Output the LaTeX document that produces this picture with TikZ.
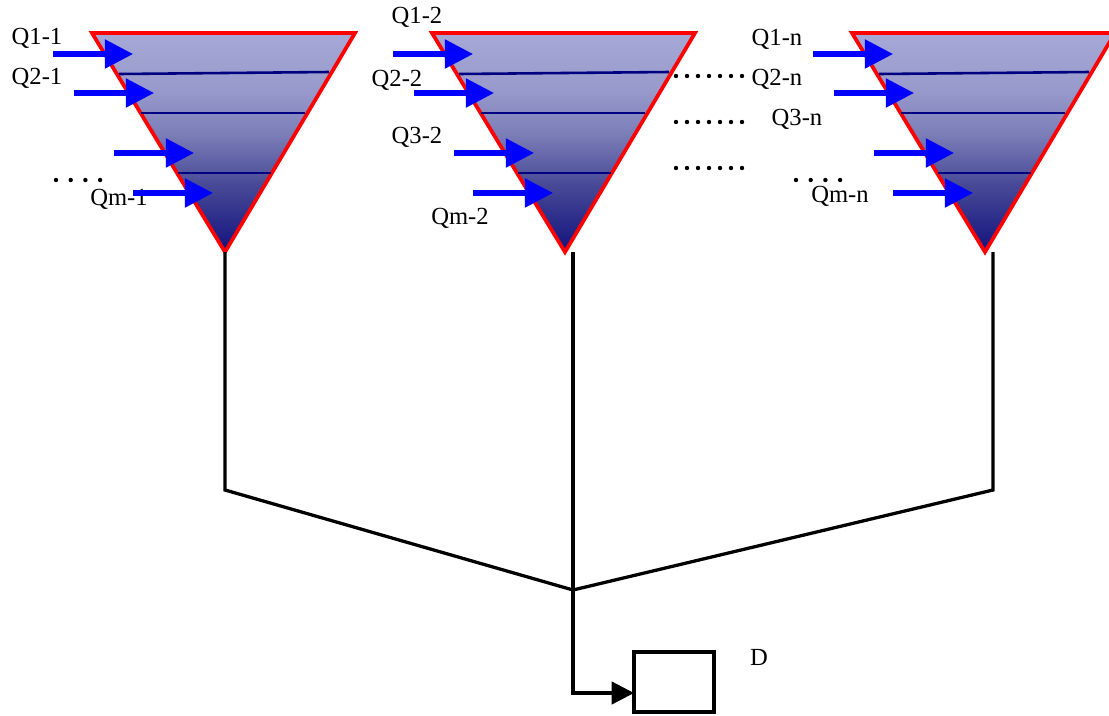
\documentclass[tikz,border=0pt]{standalone}
\usepackage{fontspec}
\setmainfont{Liberation Serif}
\usetikzlibrary{arrows.meta}
\definecolor{tanktop}{RGB}{166,168,214}
\definecolor{tankupper}{RGB}{152,154,204}
\definecolor{tankmid}{RGB}{124,126,184}
\definecolor{tanklow}{RGB}{70,72,150}
\definecolor{tankbot}{RGB}{18,18,125}
\definecolor{layerline}{RGB}{0,0,128}
\pgfdeclareverticalshading{tankshade}{100bp}{color(0bp)=(tankbot); color(25bp)=(tankbot);
  color(40bp)=(tanklow); color(52bp)=(tankmid); color(62bp)=(tankupper);
  color(75bp)=(tanktop); color(100bp)=(tanktop)}
\tikzset{
  tank/.style={draw=red, line width=3.2pt, shading=tankshade},
  layer/.style={layerline, line width=2.2pt},
  inflow/.style={blue, line width=4.3pt, -{Triangle[length=24pt,width=24pt]}},
  pipe/.style={black, line width=2.8pt},
  lbl/.style={font=\fontsize{21}{24}\selectfont, inner sep=0pt}
}
\begin{document}
\begin{tikzpicture}[x=0.03cm, y=-0.03cm]
  \useasboundingbox (0,0) rectangle (1109,715);
  % labels
  \node[lbl] (q11) at (37,38) {Q1-1};
  \node[lbl] (q21) at (37,78) {Q2-1};
  \node[lbl] (qm1) at (119,199) {Qm-1};
  \node[lbl] (q12) at (417,17) {Q1-2};
  \node[lbl] (q22) at (397,80) {Q2-2};
  \node[lbl] (q32) at (417,137) {Q3-2};
  \node[lbl] (qm2) at (460,218) {Qm-2};
  \node[lbl] (q1n) at (777,39) {Q1-n};
  \node[lbl] (q2n) at (777,79) {Q2-n};
  \node[lbl] (q3n) at (797,119) {Q3-n};
  \node[lbl] (qmn) at (840,196) {Qm-n};
  \node[lbl] (dlbl) at (759,657) {D};
  % tanks
  \foreach \ox in {92,432,852}{
    \shadedraw[tank] (\ox,33) -- (\ox+263,33) -- (\ox+133,252) -- cycle;
    \draw[layer] (\ox+27,74) -- (\ox+237,72);
    \draw[layer] (\ox+49,113) -- (\ox+213,113);
    \draw[layer] (\ox+86,173) -- (\ox+179,173);
    \foreach \dx/\y in {-39/54,-18/93,22/153,41/193}
      \draw[inflow] (\ox+\dx,\y) -- ++(80,0);
  }
  % dots
  \foreach \r in {76,122,168}
    \foreach \i in {0,...,6}
      \fill (676+\i*11,\r) circle (2.2);
  \foreach \i in {0,...,3}{
    \fill (56+\i*14.7,180) circle (2.2);
    \fill (796+\i*14.7,180) circle (2.2);
  }
  % outlets
  \coordinate (out1) at (225,252);
  \coordinate (out2) at (573,252);
  \coordinate (out3) at (993,252);
  \coordinate (bend1) at (225,490);
  \coordinate (bend3) at (993,490);
  \coordinate (join) at (573,590);
  \node[draw, pipe, minimum width=2.4cm, minimum height=1.8cm, inner sep=0pt] (dbox) at (674,682) {};
  \coordinate (din) at (634,693);
  \draw[pipe] (out1) -- (bend1) -- (join) -- (bend3) -- (out3);
  \draw[pipe, -{Triangle[length=19pt,width=19pt]}] (out2) -- (join) |- (din);
\end{tikzpicture}
\end{document}
